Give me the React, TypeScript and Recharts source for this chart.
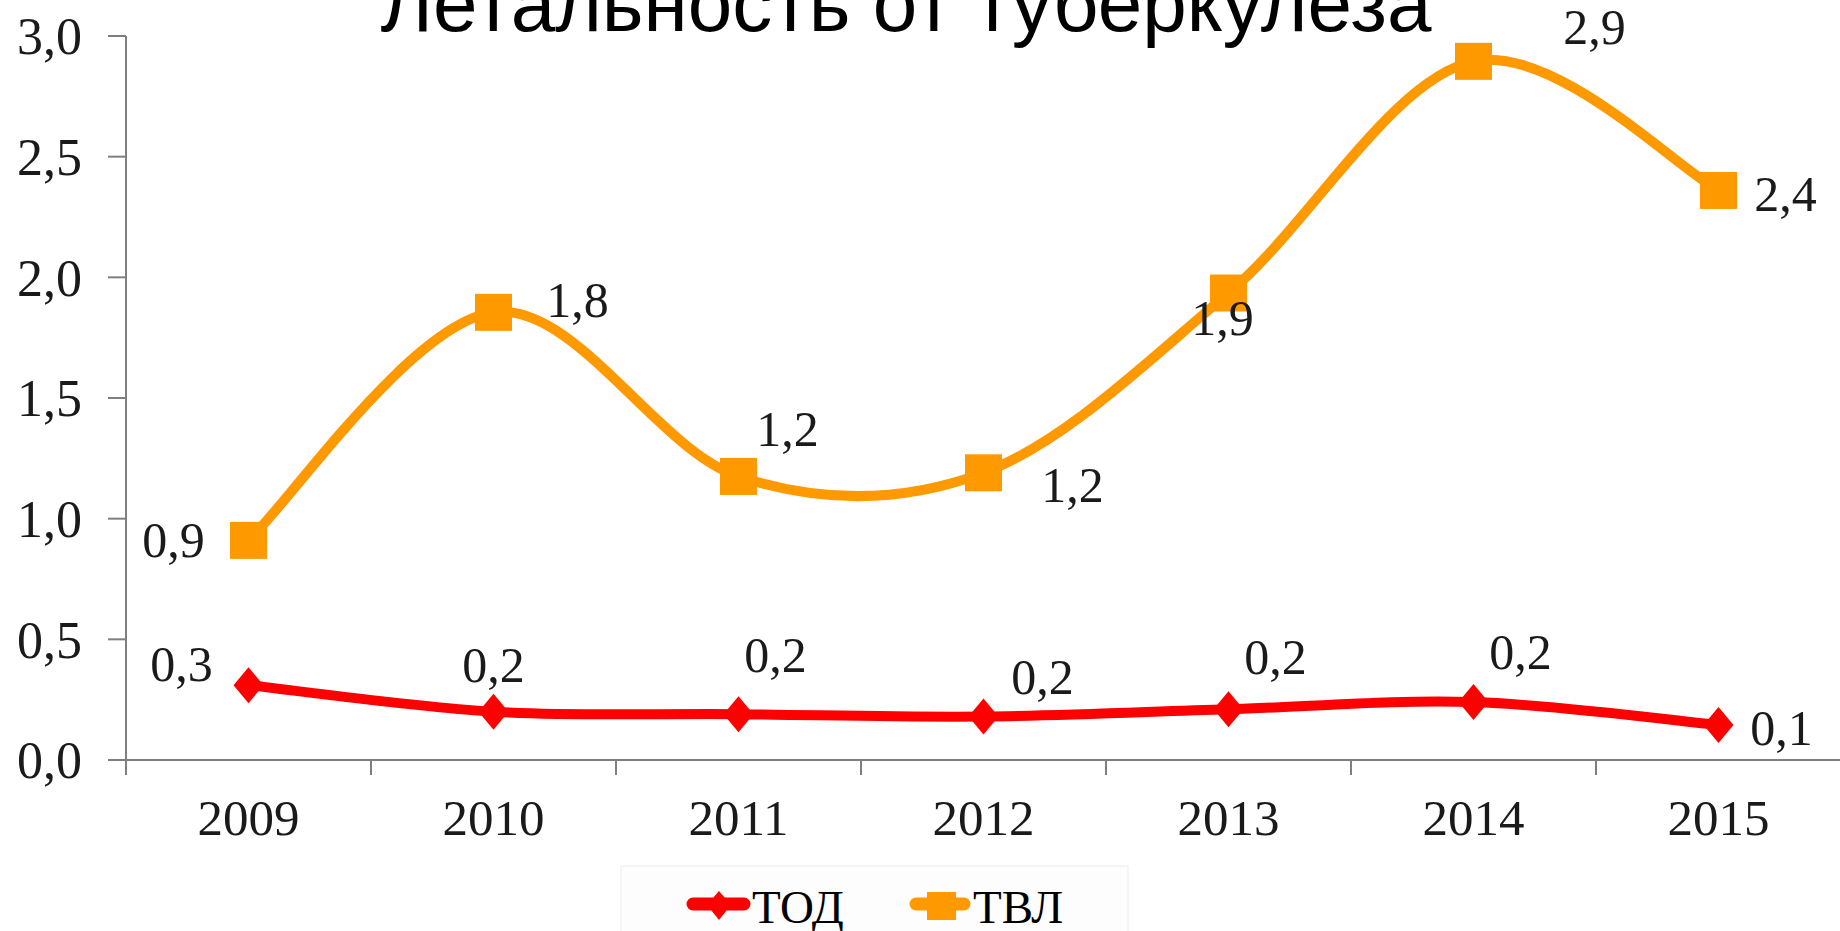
import { Line, LineChart, XAxis, YAxis, LabelList } from "recharts";

const years = ["2009", "2010", "2011", "2012", "2013", "2014", "2015"];
const todValues = [0.31, 0.2, 0.19, 0.18, 0.21, 0.24, 0.145];
const tvlValues = [0.91, 1.855, 1.175, 1.19, 1.935, 2.895, 2.36];
const todLabels = ["0,3", "0,2", "0,2", "0,2", "0,2", "0,2", "0,1"];
const tvlLabels = ["0,9", "1,8", "1,2", "1,2", "1,9", "2,9", "2,4"];
const yTicks = [0, 0.5, 1, 1.5, 2, 2.5, 3];

// where each data label sits relative to its point (label centre)
const TOD_LABEL_POS = [[-67, -21], [0, -47], [37, -59], [59, -40], [47, -52], [47, -50], [63, 3]];
const TVL_LABEL_POS = [[-75, 0], [84, -12], [49, -47], [89, 12], [-6, 25], [121, -34], [67, 4]];

const data = years.map((year, i) => ({
  idx: i,
  year,
  tod: todValues[i],
  tvl: tvlValues[i],
}));

// band edges get tick marks, band centres get the year
const xTicks = [-0.5, 0, 0.5, 1, 1.5, 2, 2.5, 3, 3.5, 4, 4.5, 5, 5.5, 6, 6.5];

const SERIF = '"Liberation Serif", "Times New Roman", serif';
const SANS = '"Liberation Sans", Arial, sans-serif';
const ORANGE = "#FF9900";
const RED = "#FF0000";
const AXIS = "#7f7f7f";

// Excel-like smoothed line (Catmull-Rom through the points)
const smoothCurve = (context: any) => {
  let pts: number[][] = [];
  return {
    areaStart() {},
    areaEnd() {},
    lineStart() {
      pts = [];
    },
    point(x: number, y: number) {
      pts.push([x, y]);
    },
    lineEnd() {
      if (!pts.length) return;
      context.moveTo(pts[0][0], pts[0][1]);
      for (let i = 0; i < pts.length - 1; i++) {
        const p0 = pts[i - 1] || pts[i];
        const p1 = pts[i];
        const p2 = pts[i + 1];
        const p3 = pts[i + 2] || p2;
        context.bezierCurveTo(
          p1[0] + (p2[0] - p0[0]) / 6,
          p1[1] + (p2[1] - p0[1]) / 6,
          p2[0] - (p3[0] - p1[0]) / 6,
          p2[1] - (p3[1] - p1[1]) / 6,
          p2[0],
          p2[1]
        );
      }
    },
  };
};

const XTick = (props: any) => {
  const { x, y, payload } = props;
  const v = payload.value;
  if (Number.isInteger(v)) {
    return (
      <text x={x} y={y + 60} textAnchor="middle" fontFamily={SERIF} fontSize={51} fill="#1a1a1a">
        {years[v]}
      </text>
    );
  }
  return <line x1={x} x2={x} y1={y - 15} y2={y} stroke={AXIS} strokeWidth={2} />;
};

const SquareDot = (props: any) => {
  const { cx, cy, index } = props;
  return <rect key={`sq-${index}`} x={cx - 18.5} y={cy - 18.5} width={37} height={37} fill={ORANGE} />;
};

const DiamondDot = (props: any) => {
  const { cx, cy, index } = props;
  return (
    <polygon
      key={`dm-${index}`}
      points={`${cx},${cy - 18} ${cx + 15},${cy} ${cx},${cy + 18} ${cx - 15},${cy}`}
      fill={RED}
    />
  );
};

const makeLabel = (labels: string[], pos: number[][]) => (props: any) => {
  const { x, y, index } = props;
  return (
    <text
      key={`lb-${index}`}
      x={x + pos[index][0]}
      y={y + pos[index][1]}
      textAnchor="middle"
      dominantBaseline="central"
      fontFamily={SERIF}
      fontSize={50}
      fill="#1a1a1a"
    >
      {labels[index]}
    </text>
  );
};

export default function App() {
  return (
    <div style={{ position: "fixed", left: 0, top: 0, width: 1840, height: 931, background: "#fff", overflow: "hidden" }}>
      <LineChart width={1850} height={931} data={data} margin={{ top: 36, right: 9, left: 0, bottom: 71 }}>
        <XAxis
          dataKey="idx"
          type="number"
          domain={[-0.5, 6.5]}
          ticks={xTicks}
          interval={0}
          tickLine={false}
          tickSize={15}
          tickMargin={0}
          height={100}
          axisLine={{ stroke: AXIS, strokeWidth: 2 }}
          tick={<XTick />}
        />
        <YAxis
          domain={[0, 3]}
          ticks={yTicks}
          width={126}
          interval={0}
          tickSize={18}
          tickMargin={26}
          axisLine={{ stroke: AXIS, strokeWidth: 2 }}
          tickLine={{ stroke: AXIS, strokeWidth: 2 }}
          tick={{ fontFamily: SERIF, fontSize: 52, fill: "#1a1a1a" }}
          tickFormatter={(v: number) => v.toFixed(1).replace(".", ",")}
        />
        <Line
          dataKey="tvl"
          type={smoothCurve as any}
          stroke={ORANGE}
          strokeWidth={10}
          dot={<SquareDot />}
          activeDot={false}
          isAnimationActive={false}
        >
          <LabelList dataKey="tvl" content={makeLabel(tvlLabels, TVL_LABEL_POS)} />
        </Line>
        <Line
          dataKey="tod"
          type={smoothCurve as any}
          stroke={RED}
          strokeWidth={10}
          dot={<DiamondDot />}
          activeDot={false}
          isAnimationActive={false}
        >
          <LabelList dataKey="tod" content={makeLabel(todLabels, TOD_LABEL_POS)} />
        </Line>
      </LineChart>

      {/* title and legend overlay */}
      <svg width={1840} height={931} style={{ position: "absolute", left: 0, top: 0, pointerEvents: "none" }}>
        <text x={906} y={31} textAnchor="middle" fontFamily={SANS} fontSize={80} fill="#000">
          Летальность от туберкулеза
        </text>
        <rect x={621} y={866} width={507} height={70} fill="#fdfdfd" stroke="#f2f2f2" strokeWidth={1.5} />
        <line x1={693} x2={744} y1={904} y2={904} stroke={RED} strokeWidth={13} strokeLinecap="round" />
        <polygon points="719,891 731,905 719,920 707,905" fill={RED} />
        <text x={752} y={923} fontFamily={SERIF} fontSize={47} fill="#000">
          ТОД
        </text>
        <line x1={916} x2={964} y1={904} y2={904} stroke={ORANGE} strokeWidth={13} strokeLinecap="round" />
        <rect x={927} y={892} width={29} height={28} fill={ORANGE} />
        <text x={973} y={923} fontFamily={SERIF} fontSize={47} fill="#000">
          ТВЛ
        </text>
      </svg>
    </div>
  );
}
